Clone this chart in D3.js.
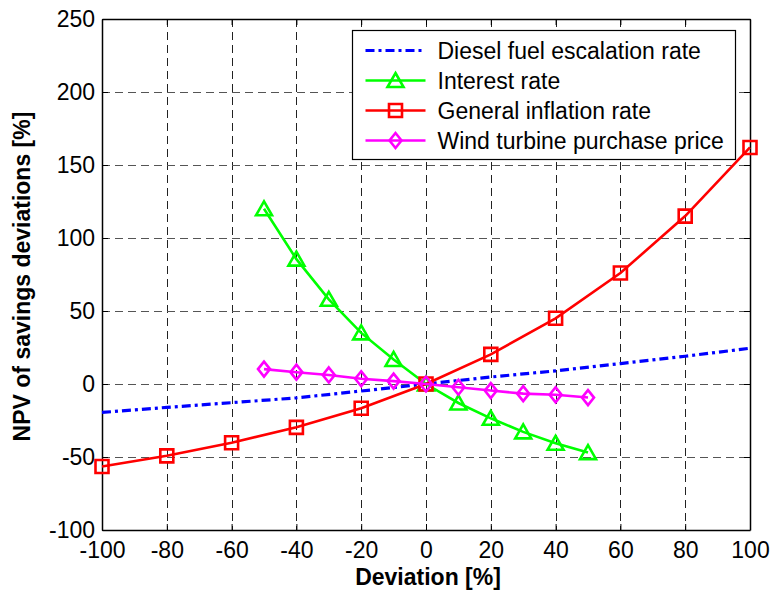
<!DOCTYPE html>
<html>
<head>
<meta charset="utf-8">
<script src="https://cdn.jsdelivr.net/npm/d3@7"></script>
<style>
  body { margin: 0; background: #fff; }
  text { font-family: "Liberation Sans", Arial, sans-serif; }
</style>
</head>
<body>
<div id="chart"></div>
<script>
var svgWidth = 774;
var svgHeight = 591;

var margin = { top: 19, right: 24, bottom: 61, left: 102 };
var width = svgWidth - margin.left - margin.right;
var height = svgHeight - margin.top - margin.bottom;

// data
var xTicks = [-100, -80, -60, -40, -20, 0, 20, 40, 60, 80, 100];
var yTicks = [-100, -50, 0, 50, 100, 150, 200, 250];

var dieselX = [-100, -80, -60, -40, -20, 0, 20, 40, 60, 80, 100];
var dieselY = [-19.5, -16, -12.8, -9.5, -4.8, 0, 4.8, 9, 14, 19, 24.5];

var interestX = [-50, -40, -30, -20, -10, 0, 10, 20, 30, 40, 50];
var interestY = [120, 85.5, 58, 35, 16.8, 0, -13, -23.5, -32.8, -40.6, -47];

var inflationX = [-100, -80, -60, -40, -20, 0, 20, 40, 60, 80, 100];
var inflationY = [-56.5, -49.2, -40.2, -29.7, -16.6, 0, 20.3, 45, 76, 115, 162];

var windX = [-50, -40, -30, -20, -10, 0, 10, 20, 30, 40, 50];
var windY = [10.2, 8.1, 6.2, 3.6, 2, 0, -2.2, -4.5, -6.6, -7.4, -9.3];

var legendNames = ["Diesel fuel escalation rate", "Interest rate", "General inflation rate", "Wind turbine purchase price"];

var series = [
  { name: legendNames[0], xs: dieselX, ys: dieselY, color: "#0000ff", marker: null, dash: "9,4,3,4", width: 3.2 },
  { name: legendNames[1], xs: interestX, ys: interestY, color: "#00ff00", marker: "triangle", dash: null, width: 2.6 },
  { name: legendNames[2], xs: inflationX, ys: inflationY, color: "#ff0000", marker: "square", dash: null, width: 2.6 },
  { name: legendNames[3], xs: windX, ys: windY, color: "#ff00ff", marker: "diamond", dash: null, width: 2.6 }
];

var svg = d3.select("#chart")
  .append("svg")
  .attr("width", svgWidth)
  .attr("height", svgHeight);

var chartGroup = svg.append("g")
  .attr("transform", `translate(${margin.left}, ${margin.top})`);

var xScale = d3.scaleLinear().domain([-100, 100]).range([0, width]);
var yScale = d3.scaleLinear().domain([-100, 250]).range([height, 0]);

// grid
chartGroup.selectAll(".vgrid")
  .data(xTicks)
  .enter()
  .append("line")
  .attr("x1", d => Math.round(xScale(d)) + 0.5)
  .attr("x2", d => Math.round(xScale(d)) + 0.5)
  .attr("y1", 0)
  .attr("y2", height)
  .attr("stroke", "#222")
  .attr("stroke-dasharray", "8,5");

chartGroup.selectAll(".hgrid")
  .data(yTicks)
  .enter()
  .append("line")
  .attr("y1", d => Math.round(yScale(d)) + 0.5)
  .attr("y2", d => Math.round(yScale(d)) + 0.5)
  .attr("x1", 0)
  .attr("x2", width)
  .attr("stroke", "#555")
  .attr("stroke-dasharray", "8,5");

// axes, ticks pointing inward
var fontSize = "23px";
var fmt = d => String(d);
var bottomAxis = d3.axisBottom(xScale).tickValues(xTicks).tickFormat(fmt).tickSizeInner(-6).tickSizeOuter(0).tickPadding(12);
var leftAxis = d3.axisLeft(yScale).tickValues(yTicks).tickFormat(fmt).tickSizeInner(-6).tickSizeOuter(0).tickPadding(8);
var topAxis = d3.axisTop(xScale).tickValues(xTicks).tickSizeInner(-6).tickSizeOuter(0).tickFormat("");
var rightAxis = d3.axisRight(yScale).tickValues(yTicks).tickSizeInner(-6).tickSizeOuter(0).tickFormat("");

var gx = chartGroup.append("g").attr("transform", `translate(0, ${height})`).call(bottomAxis);
var gy = chartGroup.append("g").call(leftAxis);
chartGroup.append("g").call(topAxis);
chartGroup.append("g").attr("transform", `translate(${width}, 0)`).call(rightAxis);

chartGroup.selectAll(".domain").attr("stroke", "#000").attr("stroke-width", 1.5);
chartGroup.selectAll(".tick line").attr("stroke", "#000");
chartGroup.selectAll(".tick text")
  .attr("fill", "#000")
  .style("font-size", fontSize)
  .style("font-family", "'Liberation Sans', Arial, sans-serif");
gy.selectAll(".tick text").attr("dx", "0.05em");

// axis labels
chartGroup.append("text")
  .attr("x", width / 2 + 2)
  .attr("y", height + 55)
  .attr("text-anchor", "middle")
  .style("font-size", fontSize)
  .style("font-weight", "bold")
  .text("Deviation [%]");

chartGroup.append("text")
  .attr("transform", "rotate(-90)")
  .attr("x", -(height / 2) - 2)
  .attr("y", 30 - margin.left)
  .attr("text-anchor", "middle")
  .style("font-size", fontSize)
  .style("font-weight", "bold")
  .text("NPV of savings deviations [%]");

function markerPath(type) {
  if (type === "triangle") return "M0,-7.5L8,6.5L-8,6.5Z";
  if (type === "square") return "M-6.5,-6.5H6.5V6.5H-6.5Z";
  if (type === "diamond") return "M0,-7.5L6,0L0,7.5L-6,0Z";
  return "";
}

var line = d3.line()
  .x(d => xScale(d[0]))
  .y(d => yScale(d[1]));

series.forEach(s => {
  var pts = s.xs.map((x, i) => [x, s.ys[i]]);
  chartGroup.append("path")
    .datum(pts)
    .attr("d", line)
    .attr("fill", "none")
    .attr("stroke", s.color)
    .attr("stroke-width", s.width)
    .attr("stroke-dasharray", s.dash);

  if (s.marker) {
    chartGroup.selectAll(null)
      .data(pts)
      .enter()
      .append("path")
      .attr("d", markerPath(s.marker))
      .attr("transform", d => `translate(${xScale(d[0])}, ${yScale(d[1])})`)
      .attr("fill", "none")
      .attr("stroke", s.color)
      .attr("stroke-width", 2.6);
  }
});

// legend
var legend = chartGroup.append("g")
  .attr("transform", `translate(${352.5 - margin.left}, ${30.5 - margin.top})`);

legend.append("rect")
  .attr("width", 383)
  .attr("height", 129)
  .attr("fill", "#fff")
  .attr("stroke", "#000")
  .attr("stroke-width", 1.2);

var rows = legend.selectAll(".row")
  .data(series)
  .enter()
  .append("g")
  .attr("transform", (d, i) => `translate(0, ${20 + i * 30})`);

rows.append("line")
  .attr("x1", 13)
  .attr("x2", 73)
  .attr("stroke", d => d.color)
  .attr("stroke-width", d => d.width)
  .attr("stroke-dasharray", d => d.dash);

rows.filter(d => d.marker)
  .append("path")
  .attr("d", d => markerPath(d.marker))
  .attr("transform", "translate(43, 0)")
  .attr("fill", "none")
  .attr("stroke", d => d.color)
  .attr("stroke-width", 2.6);

rows.append("text")
  .attr("x", 85)
  .attr("y", 8)
  .style("font-size", fontSize)
  .text(d => d.name);
</script>
</body>
</html>
